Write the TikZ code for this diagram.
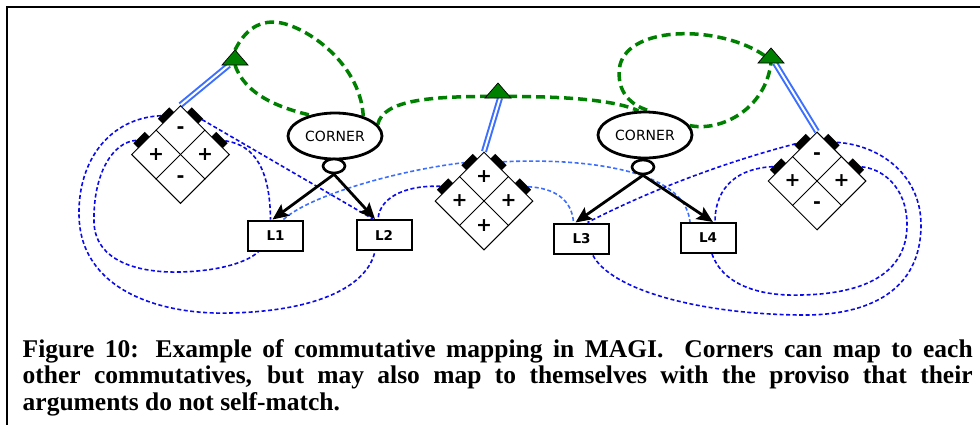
\documentclass[tikz,border=0pt]{standalone}
\usepackage{fontspec}
\setmainfont{Liberation Serif}
\newfontfamily\capfont{Liberation Serif}
\newfontfamily\lblfont{DejaVu Sans}
\usetikzlibrary{shapes.geometric,arrows.meta,calc,backgrounds}
\definecolor{dgreen}{RGB}{0,128,0}
\definecolor{dblue}{RGB}{10,10,235}
\definecolor{lblue}{RGB}{60,110,255}
\begin{document}
\begin{tikzpicture}[x=1pt,y=-1pt,
  bdash/.style={draw=dblue, line width=1.6pt, dash pattern=on 4pt off 2.5pt},
  ldash/.style={draw=lblue, line width=1.6pt, dash pattern=on 4pt off 2.5pt},
  gdash/.style={draw=dgreen, line width=3.5pt, dash pattern=on 9pt off 5pt},
  tabbox/.style={fill=black, minimum width=16pt, minimum height=7pt, inner sep=0pt, outer sep=0pt},
  lbox/.style={draw, fill=white, line width=2pt, minimum width=55pt, minimum height=30pt, inner sep=0pt, font=\lblfont\bfseries\fontsize{13.5}{13.5}\selectfont},
  corner/.style={ellipse, draw, fill=white, line width=2.8pt, minimum width=94pt, minimum height=46pt, inner sep=0pt, font=\lblfont\fontsize{14}{14}\selectfont},
  knob/.style={ellipse, draw, line width=2.6pt, fill=white, minimum width=22pt, minimum height=14pt, inner sep=0pt},
  arr/.style={line width=2.8pt, -{Stealth[length=16pt,width=14pt,inset=3pt]}},
  dline/.style={draw=lblue, line width=2pt, double=white, double distance=2pt},
  sign/.style={font=\lblfont\bfseries\fontsize{19}{19}\selectfont, inner sep=0pt},
  diam/.style={diamond, draw, line width=1pt, fill=white, minimum width=98pt, minimum height=98pt, aspect=1, inner sep=0pt},
  tri/.style={fill=dgreen, draw=black, line width=0.7pt},
  capline/.style={anchor=base west, inner sep=0pt, font=\capfont\bfseries\fontsize{25.5}{26}\selectfont}
]
\useasboundingbox (0,0) rectangle (980,424);
\newcommand\Diam[7]{%
  \node[diam] (#1) at (#2,#3) {};
  \draw[line width=1pt] ($(#1.north)!0.5!(#1.west)$) -- ($(#1.east)!0.5!(#1.south)$);
  \draw[line width=1pt] ($(#1.north)!0.5!(#1.east)$) -- ($(#1.west)!0.5!(#1.south)$);
  \node[sign] (#1-t) at ($(#1)+(0,-24.5)$) {#4};
  \node[sign] (#1-l) at ($(#1)+(-24.5,0)$) {#5};
  \node[sign] (#1-r) at ($(#1)+(24.5,0)$) {#6};
  \node[sign] (#1-b) at ($(#1)+(0,24.5)$) {#7};
  \node[tabbox, rotate=45] (#1a) at ($(#1)+(-14.5,-39)$) {};
  \node[tabbox, rotate=45] (#1b) at ($(#1)+(-39,-14.5)$) {};
  \node[tabbox, rotate=-45] (#1c) at ($(#1)+(14.5,-39)$) {};
  \node[tabbox, rotate=-45] (#1d) at ($(#1)+(39,-14.5)$) {};
}
\newcommand\Tri[3]{%
  \coordinate (#1) at (#2,#3);
  \coordinate (#1t) at ($(#1)+(0,-10)$);
  \coordinate (#1b) at ($(#1)+(0,5)$);
  \coordinate (#1l) at ($(#1)+(-6.5,-2.5)$);
  \fill[tri] (#1t) -- ($(#1)+(13,5)$) -- ($(#1)+(-13,5)$) -- cycle;
}
% frame
\draw[line width=2.8pt] (7,430) -- (7,7) -- (990,7);
% diamonds
\Diam{d1}{180.5}{154.5}{-}{+}{+}{-}
\Diam{d2}{484}{201}{+}{+}{+}{+}
\Diam{d3}{817}{181}{-}{+}{+}{-}
% triangles
\Tri{t1}{235}{60}
\Tri{t2}{498}{93}
\Tri{t3}{771}{58}
% corner ellipses and knobs
\node[corner] (c1) at (335,136) {CORNER};
\node[corner] (c2) at (645,135) {CORNER};
\node[knob] (s1) at (334,166) {};
\node[knob] (s2) at (643,167) {};
% boxes
\node[lbox] (L1) at (275.5,235.5) {L1};
\node[lbox] (L2) at (384,235) {L2};
\node[lbox] (L3) at (581.5,238.5) {L3};
\node[lbox] (L4) at (708,238) {L4};
% arrows
\draw[arr] (s1.south) -- ([xshift=-3pt]L1.north);
\draw[arr] (s1.south) -- ([xshift=-9pt]L2.north);
\draw[arr] (s2.south) -- ([xshift=-6pt]L3.north);
\draw[arr] (s2.south) -- ([xshift=5pt]L4.north);
\begin{pgfonlayer}{background}
% blue dashed connectors
\draw[bdash] (d1a) .. controls (110,118) and (78,160) .. (79,215) .. controls (80,290) and (160,315) .. (230,313) .. controls (320,311) and (368,285) .. ([xshift=-9pt]L2.south);
\draw[bdash] (d1b) .. controls (112,142) and (93,175) .. (94,222) .. controls (95,262) and (140,273) .. (180,272) .. controls (220,271) and (248,262) .. ([xshift=-17pt]L1.south);
\draw[bdash] (d1c) -- ([xshift=-11pt]L2.north);
\draw[bdash] (d1d) .. controls (255,145) and (270,170) .. ([xshift=-5pt]L1.north);
\draw[ldash] ([xshift=8pt]L1.north) .. controls (310,195) and (400,170) .. (d2a);
\draw[bdash] (d2b) .. controls (410,185) and (380,195) .. ([xshift=-6pt]L2.north);
\draw[ldash] (d2c) .. controls (580,158) and (685,168) .. ([xshift=-18pt]L4.north);
\draw[ldash] (d2d) .. controls (555,188) and (572,200) .. ([xshift=-8pt]L3.north);
\draw[bdash] (d3a) .. controls (740,158) and (660,185) .. ([xshift=6pt]L3.north);
\draw[bdash] (d3b) .. controls (740,168) and (715,185) .. ([xshift=7pt]L4.north);
\draw[bdash] ([xshift=4pt]L4.south) .. controls (725,290) and (770,296) .. (800,295) .. controls (870,294) and (907,270) .. (907,225) .. controls (907,185) and (880,168) .. (d3d);
\draw[bdash] (d3c) .. controls (880,145) and (921,175) .. (921,225) .. controls (921,290) and (870,316) .. (800,315) .. controls (700,314) and (610,290) .. ([xshift=11pt]L3.south);
% green dashed connectors
\draw[gdash] (t1t) .. controls (245,30) and (258,22) .. (273,22) .. controls (300,22) and (360,60) .. (c1.35);
\draw[gdash] (t1b) .. controls (245,95) and (280,108) .. (c1.140);
\draw[gdash] (c1.15) .. controls (383,100) and (430,96) .. (498,96.5) .. controls (565,96) and (615,100) .. (c2.105);
\draw[gdash] (t3l) .. controls (720,25) and (630,25) .. (620,65) .. controls (615,92) and (632,106) .. (c2.80);
\draw[gdash] (c2.12) .. controls (720,132) and (765,110) .. (t3b);
% double blue links
\draw[dline] (d1.north) -- ($(t1b)+(-6,0)$);
\draw[dline] (d2.north) -- ($(t2b)+(2,0)$);
\draw[dline] (d3.north) -- ($(t3b)+(4,0)$);
\end{pgfonlayer}
% caption
\node[capline] (cap1) at (22.5,357) {\makebox[950pt][s]{Figure 10: Example of commutative mapping in MAGI.\ \ Corners can map to each}};
\node[capline] (cap2) at (22.5,383.5) {\makebox[950pt][s]{other commutatives, but may also map to themselves with the proviso that their}};
\node[capline] (cap3) at (22.5,410) {arguments do not self-match.};
\end{tikzpicture}
\end{document}
